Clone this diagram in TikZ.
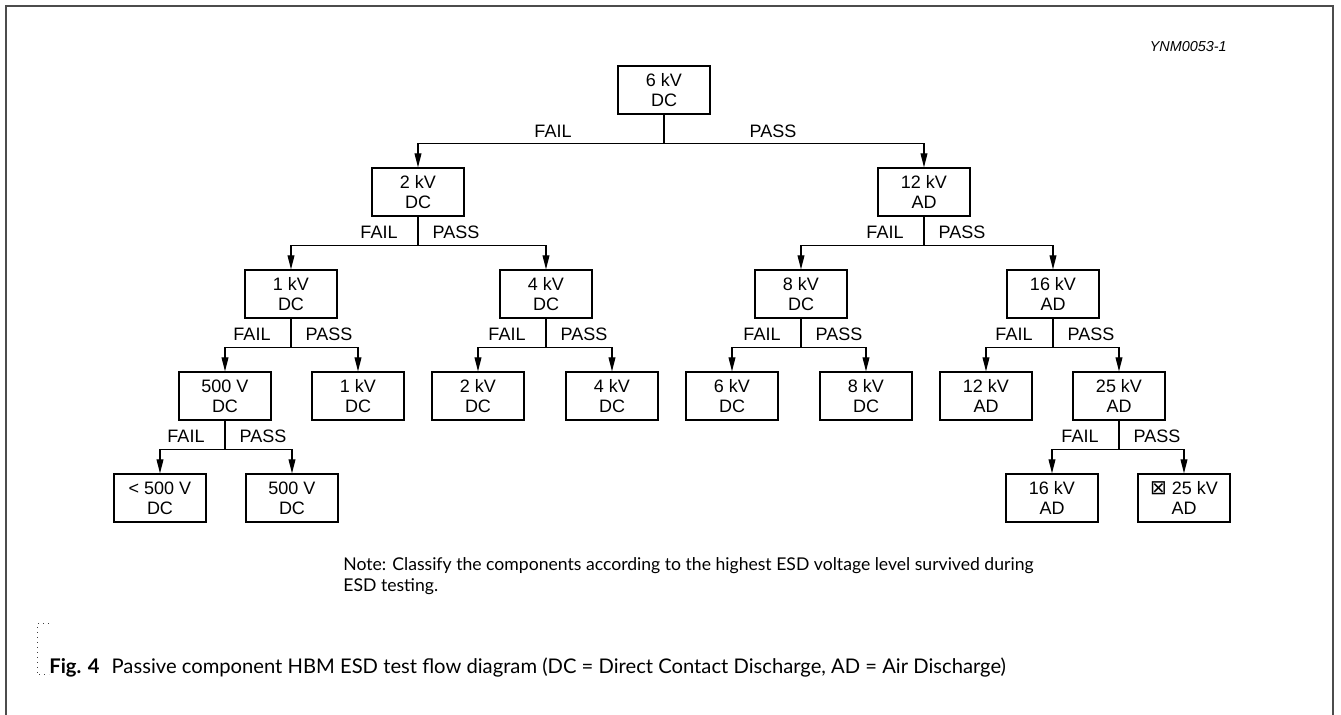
\documentclass[tikz,border=0pt]{standalone}
\usepackage{fontspec}
\setmainfont{Liberation Sans}
\newfontfamily\notefont{Lato}
\newfontfamily\glyphfont{DejaVu Sans}
\usetikzlibrary{arrows.meta,calc}
\tikzstyle{stage}=[draw, line width=0.6pt, minimum width=46pt, minimum height=24pt, inner sep=0pt, align=center, font=\fontsize{9}{10}\selectfont]
\tikzstyle{branch}=[anchor=base, inner sep=0pt, font=\fontsize{9}{10}\selectfont]
\tikzstyle{wire}=[line width=0.6pt]
\tikzstyle{flow}=[line width=0.6pt, -{Triangle[length=7pt, width=3.4pt]}]

\begin{document}
\begin{tikzpicture}[x=0.5pt, y=0.5pt]
                \useasboundingbox (0,0) rectangle (1341,-715);
                \draw [line width=1pt, black!70] (6,-715) -- (6,-6) -- (1333,-6) -- (1333,-715);
                \node [anchor=base east, inner sep=0pt, font=\fontsize{7.2}{8}\selectfont\itshape] (id) at (1227,-52) {YNM0053-1};
                % stages
                \node [style=stage] (0) at (664, -90) {6 kV\\DC};
                \node [style=stage] (1) at (418, -192) {2 kV\\DC};
                \node [style=stage] (2) at (924, -192) {12 kV\\AD};
                \node [style=stage] (3) at (291, -294) {1 kV\\DC};
                \node [style=stage] (4) at (546, -294) {4 kV\\DC};
                \node [style=stage] (5) at (801, -294) {8 kV\\DC};
                \node [style=stage] (6) at (1053, -294) {16 kV\\AD};
                \node [style=stage] (7) at (225, -396) {500 V\\DC};
                \node [style=stage] (8) at (358, -396) {1 kV\\DC};
                \node [style=stage] (9) at (478, -396) {2 kV\\DC};
                \node [style=stage] (10) at (612, -396) {4 kV\\DC};
                \node [style=stage] (11) at (732, -396) {6 kV\\DC};
                \node [style=stage] (12) at (866, -396) {8 kV\\DC};
                \node [style=stage] (13) at (986, -396) {12 kV\\AD};
                \node [style=stage] (14) at (1119, -396) {25 kV\\AD};
                \node [style=stage] (15) at (160, -498) {< 500 V\\DC};
                \node [style=stage] (16) at (292, -498) {500 V\\DC};
                \node [style=stage] (17) at (1052, -498) {16 kV\\AD};
                \node [style=stage] (18) at (1184, -498) {{\glyphfont\fontsize{10}{10}\selectfont ⊠} 25 kV\\AD};
                % forks
                \draw [style=wire] (0.south) -- ++(0,-29) coordinate (f0);
                \draw [style=flow] (f0) -| (1.north);
                \draw [style=flow] (f0) -| (2.north);
                \node [style=branch] (a0) at ($(f0)+(-111,6)$) {FAIL};
                \node [style=branch] (b0) at ($(f0)+(109,6)$) {PASS};
                \draw [style=wire] (1.south) -- ++(0,-29) coordinate (f1);
                \draw [style=flow] (f1) -| (3.north);
                \draw [style=flow] (f1) -| (4.north);
                \node [style=branch] (a1) at ($(f1)+(-39,7)$) {FAIL};
                \node [style=branch] (b1) at ($(f1)+(38,7)$) {PASS};
                \draw [style=wire] (2.south) -- ++(0,-29) coordinate (f2);
                \draw [style=flow] (f2) -| (5.north);
                \draw [style=flow] (f2) -| (6.north);
                \node [style=branch] (a2) at ($(f2)+(-39,7)$) {FAIL};
                \node [style=branch] (b2) at ($(f2)+(38,7)$) {PASS};
                \draw [style=wire] (3.south) -- ++(0,-29) coordinate (f3);
                \draw [style=flow] (f3) -| (7.north);
                \draw [style=flow] (f3) -| (8.north);
                \node [style=branch] (a3) at ($(f3)+(-39,7)$) {FAIL};
                \node [style=branch] (b3) at ($(f3)+(38,7)$) {PASS};
                \draw [style=wire] (4.south) -- ++(0,-29) coordinate (f4);
                \draw [style=flow] (f4) -| (9.north);
                \draw [style=flow] (f4) -| (10.north);
                \node [style=branch] (a4) at ($(f4)+(-39,7)$) {FAIL};
                \node [style=branch] (b4) at ($(f4)+(38,7)$) {PASS};
                \draw [style=wire] (5.south) -- ++(0,-29) coordinate (f5);
                \draw [style=flow] (f5) -| (11.north);
                \draw [style=flow] (f5) -| (12.north);
                \node [style=branch] (a5) at ($(f5)+(-39,7)$) {FAIL};
                \node [style=branch] (b5) at ($(f5)+(38,7)$) {PASS};
                \draw [style=wire] (6.south) -- ++(0,-29) coordinate (f6);
                \draw [style=flow] (f6) -| (13.north);
                \draw [style=flow] (f6) -| (14.north);
                \node [style=branch] (a6) at ($(f6)+(-39,7)$) {FAIL};
                \node [style=branch] (b6) at ($(f6)+(38,7)$) {PASS};
                \draw [style=wire] (7.south) -- ++(0,-29) coordinate (f7);
                \draw [style=flow] (f7) -| (15.north);
                \draw [style=flow] (f7) -| (16.north);
                \node [style=branch] (a7) at ($(f7)+(-39,7)$) {FAIL};
                \node [style=branch] (b7) at ($(f7)+(38,7)$) {PASS};
                \draw [style=wire] (14.south) -- ++(0,-29) coordinate (f8);
                \draw [style=flow] (f8) -| (17.north);
                \draw [style=flow] (f8) -| (18.north);
                \node [style=branch] (a8) at ($(f8)+(-39,7)$) {FAIL};
                \node [style=branch] (b8) at ($(f8)+(38,7)$) {PASS};
                % note and caption
                \node [anchor=base west, inner sep=0pt, align=left, font=\notefont\fontsize{8.8}{10.5}\selectfont] (note) at (343,-592) {Note: Classify the components according to the highest ESD voltage level survived during\\ESD testing.};
                \draw [dotted, black!75, line width=0.5pt] (49,-624) -- (37,-624) -- (37,-675) -- (49,-675);
                \node [anchor=base west, inner sep=0pt, font=\notefont\fontsize{10.1}{12}\selectfont] (cap) at (49,-674) {\textbf{Fig. 4}\hspace{6pt}Passive component HBM ESD test flow diagram (DC = Direct Contact Discharge, AD = Air Discharge)};
    \end{tikzpicture}
\end{document}
